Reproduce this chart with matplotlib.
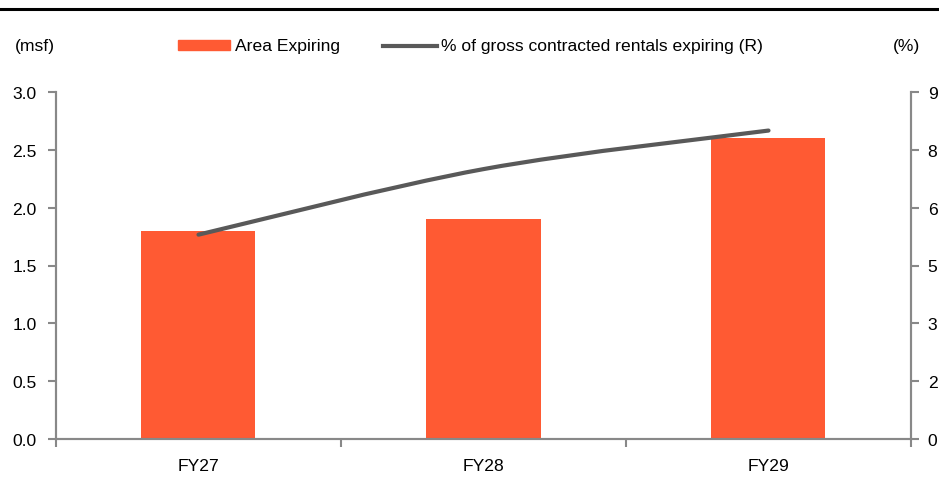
import numpy as np
import matplotlib
matplotlib.use("Agg")
import matplotlib.pyplot as plt
from matplotlib.path import Path
from matplotlib.patches import PathPatch

plt.rcParams['font.family'] = ['Liberation Sans', 'DejaVu Sans']

# data
years = ['FY27', 'FY28', 'FY29']
area_expiring = [1.8, 1.9, 2.6]          # msf, left axis
pct_rentals = [5.3, 7.0, 8.0]            # %, right axis
left_ticks = [0.0, 0.5, 1.0, 1.5, 2.0, 2.5, 3.0]
right_ticks = [0, 1.5, 3, 4.5, 6, 7.5, 9]
right_labels = ['0', '2', '3', '5', '6', '8', '9']

BAR = '#FF5A33'
LINE = '#595959'
SPINE = '#888888'
FS = 12.6


def smooth_path(xs, ys):
    # Catmull-Rom through the points, as cubic beziers (like an Excel smoothed line)
    pts = np.column_stack([xs, ys]).astype(float)
    verts = [pts[0]]
    codes = [Path.MOVETO]
    n = len(pts)
    for i in range(n - 1):
        p0 = pts[i - 1] if i > 0 else pts[i]
        p1, p2 = pts[i], pts[i + 1]
        p3 = pts[i + 2] if i + 2 < n else pts[i + 1]
        c1 = p1 + (p2 - p0) / 6.0
        c2 = p2 - (p3 - p1) / 6.0
        verts += [c1, c2, p2]
        codes += [Path.CURVE4] * 3
    return Path(verts, codes)


fig = plt.figure(figsize=(9.39, 4.81), dpi=100)
ax = fig.add_axes([56 / 939, 41 / 481, 855 / 939, 347 / 481])
ax2 = ax.twinx()

x = np.arange(len(years))
ax.bar(x, area_expiring, width=0.4, color=BAR, zorder=2)
ax.set_xlim(-0.5, len(years) - 0.5)
ax.set_ylim(0, 3.0)
ax.set_yticks(left_ticks)
ax.set_yticklabels([f'{v:.1f}' for v in left_ticks])
ax.set_xticks(x)
ax.set_xticklabels(years)
ax.set_xticks(np.arange(len(years) + 1) - 0.5, minor=True)
ax.tick_params(axis='x', which='major', length=0, pad=14, labelsize=FS)
ax.tick_params(axis='x', which='minor', length=6, color=SPINE, width=1.5, direction='out')
ax.tick_params(axis='y', length=6, color=SPINE, width=1.5, labelsize=FS, pad=8)

ax2.set_ylim(0, 9)
ax2.set_yticks(right_ticks)
ax2.set_yticklabels(right_labels)
ax2.tick_params(axis='y', length=6, color=SPINE, width=1.5, labelsize=FS, pad=6)
ax2.add_patch(PathPatch(smooth_path(x, pct_rentals), facecolor='none',
                        edgecolor=LINE, lw=3, capstyle='round', zorder=3))

for a in (ax, ax2):
    a.spines['top'].set_visible(False)
    for s in ('left', 'right', 'bottom'):
        a.spines[s].set_color(SPINE)
        a.spines[s].set_linewidth(1.5)

# legend and unit labels in the header band
fig.text(15 / 939, 1 - 47 / 481, '(msf)', fontsize=FS, va='center', ha='left')
fig.text(920 / 939, 1 - 47 / 481, '(%)', fontsize=FS, va='center', ha='right')
fig.patches.append(plt.Rectangle((178 / 939, 1 - 51 / 481), 52 / 939, 10 / 481,
                                 transform=fig.transFigure, color=BAR))
fig.text(235 / 939, 1 - 47 / 481, 'Area Expiring', fontsize=FS, va='center', ha='left')
fig.lines.append(plt.Line2D([383 / 939, 437 / 939], [1 - 47 / 481, 1 - 47 / 481],
                            transform=fig.transFigure, color=LINE, lw=3))
fig.text(441 / 939, 1 - 47 / 481, '% of gross contracted rentals expiring (R)',
         fontsize=FS, va='center', ha='left')

# rule under the (cropped) title
fig.lines.append(plt.Line2D([0, 1], [1 - 10 / 481, 1 - 10 / 481],
                            transform=fig.transFigure, color='black', lw=2.2))

fig.savefig('out.png', dpi=100)
